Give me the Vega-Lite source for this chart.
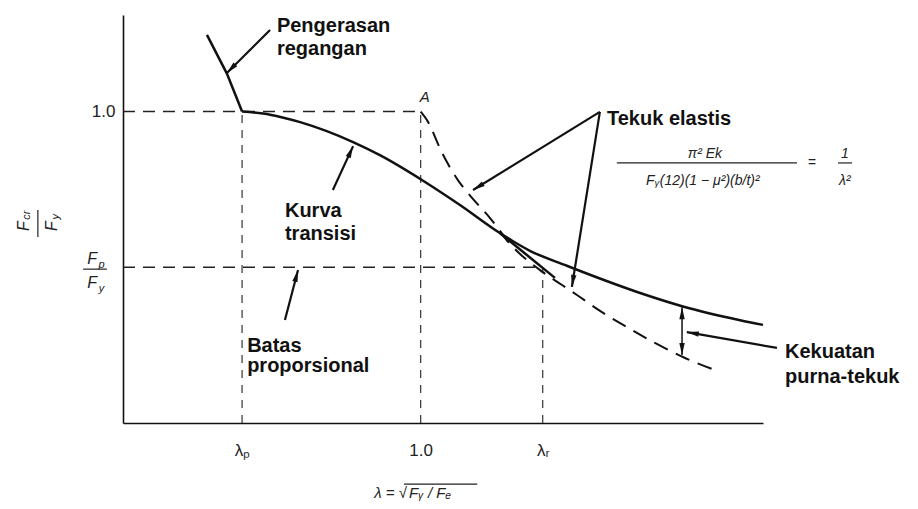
{
  "$schema": "https://vega.github.io/schema/vega-lite/v6.json",
  "width": 640,
  "height": 408,
  "autosize": {"type": "none"},
  "padding": {"left": 123, "top": 15, "right": 155, "bottom": 86},
  "background": "white",
  "config": {
    "view": {"stroke": null},
    "axis": {
      "domainColor": "#111",
      "domainWidth": 1.6,
      "ticks": false,
      "grid": false,
      "labelFont": "Liberation Sans",
      "labelFontSize": 17,
      "labelColor": "#222",
      "title": null
    }
  },
  "datasets": {
    "guidesH": [
      {"x": 0, "y": 1, "x2": 1, "y2": 1},
      {"x": 0, "y": 0.5, "x2": 1.41, "y2": 0.5}
    ],
    "guidesV": [
      {"x": 0.4, "y": 0, "x2": 0.4, "y2": 1},
      {"x": 1, "y": 0, "x2": 1, "y2": 1},
      {"x": 1.41, "y": 0, "x2": 1.41, "y2": 0.5}
    ],
    "strainHardening": [
      {"x": 0.282, "y": 1.246},
      {"x": 0.349, "y": 1.122},
      {"x": 0.4, "y": 1.0}
    ],
    "strength": [
      {"x": 0.4, "y": 1.0},
      {"x": 0.494, "y": 0.99},
      {"x": 0.595, "y": 0.966},
      {"x": 0.773, "y": 0.902},
      {"x": 0.863, "y": 0.86},
      {"x": 1.008, "y": 0.778},
      {"x": 1.132, "y": 0.7},
      {"x": 1.266, "y": 0.61},
      {"x": 1.367, "y": 0.553},
      {"x": 1.491, "y": 0.505},
      {"x": 1.602, "y": 0.464},
      {"x": 1.76, "y": 0.41},
      {"x": 1.881, "y": 0.374},
      {"x": 2.073, "y": 0.33},
      {"x": 2.15, "y": 0.315}
    ],
    "transitionLine": [
      {"x": 1.266, "y": 0.61, "x2": 1.451, "y2": 0.466}
    ],
    "elastic": [
      {"x": 1.0, "y": 1.0},
      {"x": 1.021, "y": 0.973},
      {"x": 1.072, "y": 0.867},
      {"x": 1.125, "y": 0.78},
      {"x": 1.159, "y": 0.738},
      {"x": 1.233, "y": 0.658},
      {"x": 1.31, "y": 0.565},
      {"x": 1.401, "y": 0.491},
      {"x": 1.475, "y": 0.443},
      {"x": 1.525, "y": 0.411},
      {"x": 1.609, "y": 0.356},
      {"x": 1.693, "y": 0.308},
      {"x": 1.787, "y": 0.257},
      {"x": 1.881, "y": 0.212},
      {"x": 2.005, "y": 0.164}
    ],
    "pointers": [
      {"x": 0.494, "y": 1.262, "x2": 0.349, "y2": 1.124},
      {"x": 0.705, "y": 0.748, "x2": 0.773, "y2": 0.889},
      {"x": 0.544, "y": 0.331, "x2": 0.588, "y2": 0.491},
      {"x": 1.602, "y": 0.999, "x2": 1.176, "y2": 0.748},
      {"x": 1.602, "y": 0.999, "x2": 1.508, "y2": 0.437},
      {"x": 2.197, "y": 0.241, "x2": 1.894, "y2": 0.292}
    ],
    "gap": [
      {"x": 1.878, "y": 0.372, "x2": 1.878, "y2": 0.218}
    ],
    "heads": [
      {"x": 0.349, "y": 1.124, "heading": 225},
      {"x": 0.773, "y": 0.889, "heading": 24},
      {"x": 0.588, "y": 0.491, "heading": 15},
      {"x": 1.176, "y": 0.748, "heading": 238},
      {"x": 1.508, "y": 0.437, "heading": 189},
      {"x": 1.894, "y": 0.292, "heading": 280},
      {"x": 1.878, "y": 0.372, "heading": 0},
      {"x": 1.878, "y": 0.218, "heading": 180},
      {"x": 1.266, "y": 0.61, "heading": 309}
    ],
    "labels": [
      {"x": 0.517, "y": 1.255, "text": "Pengerasan"},
      {"x": 0.517, "y": 1.182, "text": "regangan"},
      {"x": 1.626, "y": 0.957, "text": "Tekuk elastis"},
      {"x": 0.544, "y": 0.661, "text": "Kurva"},
      {"x": 0.544, "y": 0.588, "text": "transisi"},
      {"x": 0.417, "y": 0.228, "text": "Batas"},
      {"x": 0.417, "y": 0.164, "text": "proporsional"},
      {"x": 2.224, "y": 0.209, "text": "Kekuatan"},
      {"x": 2.224, "y": 0.128, "text": "purna-tekuk"}
    ],
    "symbols": [
      {"x": 1.014, "y": 1.031, "text": "A", "size": 15},
      {"x": -0.104, "y": 0.511, "text": "F", "size": 16},
      {"x": -0.072, "y": 0.498, "text": "p", "size": 11},
      {"x": -0.104, "y": 0.433, "text": "F", "size": 16},
      {"x": -0.072, "y": 0.421, "text": "y", "size": 11},
      {"x": 1.955, "y": 0.851, "text": "π² Ek", "size": 14},
      {"x": 1.948, "y": 0.764, "text": "Fᵧ(12)(1 − μ²)(b/t)²", "size": 14},
      {"x": 2.314, "y": 0.822, "text": "=", "size": 14},
      {"x": 2.425, "y": 0.851, "text": "1", "size": 14},
      {"x": 2.425, "y": 0.764, "text": "λ²", "size": 14}
    ],
    "titleLeft": [
      {"x": 0.954, "y": -0.241, "text": "λ = √"}
    ],
    "titleRight": [
      {"x": 0.961, "y": -0.241, "text": "Fᵧ / Fₑ"}
    ],
    "bars": [
      {"x": -0.134, "y": 0.494, "x2": -0.054, "y2": 0.494},
      {"x": 1.659, "y": 0.835, "x2": 2.264, "y2": 0.835},
      {"x": 2.402, "y": 0.835, "x2": 2.449, "y2": 0.835},
      {"x": 0.944, "y": -0.196, "x2": 1.19, "y2": -0.196},
      {"x": -0.286, "y": 0.684, "x2": -0.286, "y2": 0.597}
    ],
    "yTitle": [
      {"x": -0.333, "y": 0.632, "text": "F", "size": 16},
      {"x": -0.321, "y": 0.667, "text": "cr", "size": 11},
      {"x": -0.238, "y": 0.632, "text": "F", "size": 16},
      {"x": -0.226, "y": 0.662, "text": "y", "size": 11}
    ]
  },
  "encoding": {
    "x": {
      "field": "x",
      "type": "quantitative",
      "scale": {"domain": [0, 2.15], "nice": false, "zero": false},
      "axis": {
        "values": [0.4, 1, 1.41],
        "labelExpr": "datum.value < 0.7 ? 'λₚ' : (datum.value < 1.2 ? '1.0' : 'λᵣ')",
        "labelPadding": 19,
        "title": null
      }
    },
    "y": {
      "field": "y",
      "type": "quantitative",
      "scale": {"domain": [0, 1.31], "nice": false, "zero": false},
      "axis": {
        "values": [1],
        "labelExpr": "'1.0'",
        "labelPadding": 8,
        "title": null
      }
    }
  },
  "layer": [
    {
      "data": {"name": "guidesH"},
      "mark": {"type": "rule", "color": "#222", "strokeWidth": 1.4, "strokeDash": [12, 8]},
      "encoding": {"x2": {"field": "x2"}, "y2": {"field": "y2"}}
    },
    {
      "data": {"name": "guidesV"},
      "mark": {"type": "rule", "color": "#333", "strokeWidth": 1.2, "strokeDash": [8, 7]},
      "encoding": {"x2": {"field": "x2"}, "y2": {"field": "y2"}}
    },
    {
      "data": {"name": "strainHardening"},
      "mark": {"type": "line", "color": "#111", "strokeWidth": 2.5},
      "encoding": {}
    },
    {
      "data": {"name": "strength"},
      "mark": {"type": "line", "color": "#111", "strokeWidth": 2.5, "interpolate": "monotone"},
      "encoding": {}
    },
    {
      "data": {"name": "transitionLine"},
      "mark": {"type": "rule", "color": "#111", "strokeWidth": 2.5},
      "encoding": {"x2": {"field": "x2"}, "y2": {"field": "y2"}}
    },
    {
      "data": {"name": "elastic"},
      "mark": {"type": "line", "color": "#111", "strokeWidth": 2, "strokeDash": [15, 9], "interpolate": "monotone"},
      "encoding": {}
    },
    {
      "data": {"name": "pointers"},
      "mark": {"type": "rule", "color": "#111", "strokeWidth": 2.2},
      "encoding": {"x2": {"field": "x2"}, "y2": {"field": "y2"}}
    },
    {
      "data": {"name": "gap"},
      "mark": {"type": "rule", "color": "#111", "strokeWidth": 1.5},
      "encoding": {"x2": {"field": "x2"}, "y2": {"field": "y2"}}
    },
    {
      "data": {"name": "heads"},
      "mark": {"type": "point", "filled": true, "color": "#111", "opacity": 1, "size": 144, "shape": "M0,0L0.45,2L-0.45,2Z"},
      "encoding": {"angle": {"field": "heading", "type": "quantitative", "scale": null}}
    },
    {
      "data": {"name": "bars"},
      "mark": {"type": "rule", "color": "#222", "strokeWidth": 1.2},
      "encoding": {"x2": {"field": "x2"}, "y2": {"field": "y2"}}
    },
    {
      "data": {"name": "labels"},
      "mark": {"type": "text", "align": "left", "baseline": "alphabetic", "font": "Liberation Sans", "fontWeight": "bold", "fontSize": 20, "color": "#111"},
      "encoding": {"text": {"field": "text"}}
    },
    {
      "data": {"name": "symbols"},
      "mark": {"type": "text", "align": "center", "baseline": "alphabetic", "font": "Liberation Sans", "fontStyle": "italic", "color": "#222"},
      "encoding": {
        "text": {"field": "text"},
        "size": {"field": "size", "type": "quantitative", "scale": null}
      }
    },
    {
      "data": {"name": "titleLeft"},
      "mark": {"type": "text", "align": "right", "baseline": "alphabetic", "font": "Liberation Sans", "fontStyle": "italic", "fontSize": 15, "color": "#222"},
      "encoding": {"text": {"field": "text"}}
    },
    {
      "data": {"name": "titleRight"},
      "mark": {"type": "text", "align": "left", "baseline": "alphabetic", "font": "Liberation Sans", "fontStyle": "italic", "fontSize": 15, "color": "#222"},
      "encoding": {"text": {"field": "text"}}
    },
    {
      "data": {"name": "yTitle"},
      "mark": {"type": "text", "angle": 270, "align": "center", "baseline": "middle", "font": "Liberation Sans", "fontStyle": "italic", "color": "#222"},
      "encoding": {
        "text": {"field": "text"},
        "size": {"field": "size", "type": "quantitative", "scale": null}
      }
    }
  ]
}
